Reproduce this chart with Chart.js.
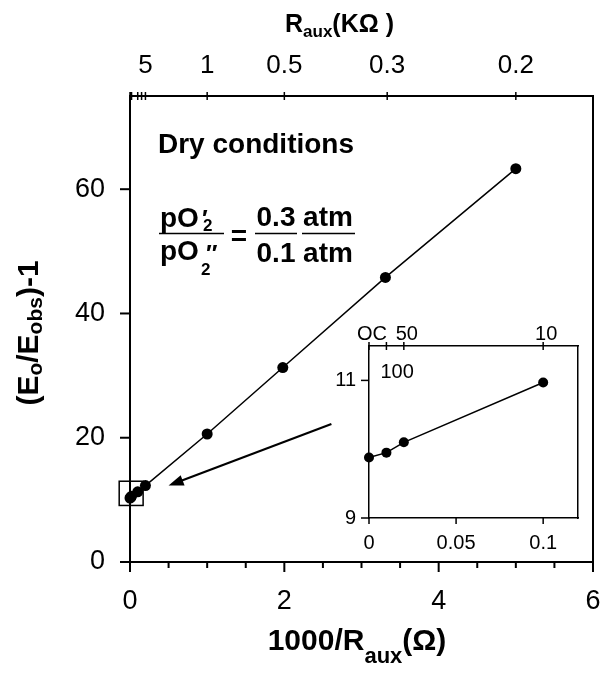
<!DOCTYPE html>
<html lang="en">
<head>
<meta charset="UTF-8" />
<title>Dry conditions</title>
<script src="https://cdn.jsdelivr.net/npm/chart.js@4.4.0/dist/chart.umd.min.js"></script>
<style>
  body { margin: 0; background: #fff; }
  #wrap { position: relative; width: 604px; height: 675px; }
  #inset { position: absolute; left: 330px; top: 320px; }
</style>
</head>
<body>
<div id="wrap">
  <canvas id="chart" width="604" height="675"></canvas>
  <canvas id="inset" width="270" height="240"></canvas>
</div>
<script>
const FONT = '"Liberation Sans", Arial, sans-serif';

// main plot: 1000/Raux against (Eo/Eobs)-1
const invR = [0, 0.01, 0.02, 0.1, 0.2, 1, 1.98, 3.31, 5];
const ratio = [10.3, 10.4, 10.6, 11.3, 12.3, 20.6, 31.3, 45.8, 63.3];

// top axis, Raux in kOhm
const topTickPos = [0, 0.01, 0.02, 0.1, 0.15, 0.2, 1, 2, 3.333, 5];
const topTickText = ['', '', '', '', '', '5', '1', '0.5', '0.3', '0.2'];

// inset, low current end
const insetX = [0, 0.01, 0.02, 0.1];
const insetY = [9.88, 9.95, 10.1, 10.97];
const insetTopPos = [0, 0.01, 0.02, 0.1];
const insetTopText = ['OC', '100', '50', '10'];

// draws a run of text pieces: [text, size, drop]
function rich(ctx, parts, x, y, align) {
  let w = 0;
  parts.forEach(p => {
    ctx.font = 'bold ' + p[1] + 'px ' + FONT;
    p.w = ctx.measureText(p[0]).width;
    w += p.w;
  });
  let cx = align === 'center' ? x - w / 2 : x;
  ctx.textAlign = 'left';
  ctx.textBaseline = 'alphabetic';
  parts.forEach(p => {
    ctx.font = 'bold ' + p[1] + 'px ' + FONT;
    ctx.fillText(p[0], cx, y + (p[2] || 0));
    cx += p.w;
  });
}

function line(ctx, x1, y1, x2, y2) {
  ctx.beginPath();
  ctx.moveTo(x1, y1);
  ctx.lineTo(x2, y2);
  ctx.stroke();
}

// keep the plot area fixed: no extra room for edge labels
function noPad(s) {
  s.paddingLeft = 0;
  s.paddingRight = 0;
  s.paddingTop = 0;
  s.paddingBottom = 0;
}

const mainDecor = {
  id: 'mainDecor',
  afterDraw(chart) {
    const ctx = chart.ctx;
    const a = chart.chartArea;
    const { x, y, x2 } = chart.scales;
    ctx.save();
    ctx.strokeStyle = '#000';
    ctx.fillStyle = '#000';
    ctx.lineWidth = 2;

    // bottom ticks, every 0.5
    for (let i = 0; i <= 12; i++) {
      const px = x.getPixelForValue(i / 2);
      line(ctx, px, a.bottom, px, a.bottom + (i % 4 === 0 ? 10 : 6));
    }
    [0, 20, 40, 60].forEach(v => {
      const py = y.getPixelForValue(v);
      line(ctx, a.left - 10, py, a.left, py);
    });
    ctx.lineWidth = 1.5;
    topTickPos.forEach(v => {
      const px = x2.getPixelForValue(v);
      line(ctx, px, a.top - 4, px, a.top + 4);
    });

    // small box round the points near zero, and arrow to the inset
    const bx0 = x.getPixelForValue(-0.14), bx1 = x.getPixelForValue(0.17);
    const by0 = y.getPixelForValue(13), by1 = y.getPixelForValue(9.1);
    ctx.lineWidth = 1.5;
    ctx.strokeRect(bx0, by0, bx1 - bx0, by1 - by0);

    const ax0 = x.getPixelForValue(2.61), ay0 = y.getPixelForValue(22.2);
    const ax1 = x.getPixelForValue(0.5), ay1 = y.getPixelForValue(12.3);
    const ang = Math.atan2(ay1 - ay0, ax1 - ax0);
    ctx.lineWidth = 2.2;
    line(ctx, ax0, ay0, ax1 - 10 * Math.cos(ang), ay1 - 10 * Math.sin(ang));
    ctx.beginPath();
    ctx.moveTo(ax1, ay1);
    ctx.lineTo(ax1 - 15 * Math.cos(ang) + 5.5 * Math.sin(ang), ay1 - 15 * Math.sin(ang) - 5.5 * Math.cos(ang));
    ctx.lineTo(ax1 - 15 * Math.cos(ang) - 5.5 * Math.sin(ang), ay1 - 15 * Math.sin(ang) + 5.5 * Math.cos(ang));
    ctx.closePath();
    ctx.fill();

    // axis titles
    rich(ctx, [['R', 25], ['aux', 17, 5], ['(K\u03A9 )', 25]], 285, 32, 'left');
    rich(ctx, [['1000/R', 30], ['aux', 22, 13], ['(\u03A9)', 30]], 357, 650, 'center');
    ctx.save();
    ctx.translate(38, 333);
    ctx.rotate(-Math.PI / 2);
    rich(ctx, [['(E', 30], ['o', 21, 4], ['/E', 30], ['obs', 21, 4], [')-1', 30]], 0, 0, 'center');
    ctx.restore();

    // annotation
    rich(ctx, [['Dry conditions', 28]], 158, 153, 'left');
    ctx.lineWidth = 1.5;
    line(ctx, 159, 233.5, 224, 233.5);
    line(ctx, 255, 233.5, 297, 233.5);
    line(ctx, 302, 233.5, 355, 233.5);
    rich(ctx, [['pO', 28]], 160, 227, 'left');
    rich(ctx, [['\u2032', 24]], 202, 227, 'left');
    rich(ctx, [['2', 17]], 203, 231, 'left');
    rich(ctx, [['pO', 28]], 160, 260, 'left');
    rich(ctx, [['2', 17]], 201, 275, 'left');
    rich(ctx, [['\u2033', 24]], 206, 262, 'left');
    rich(ctx, [['=', 28]], 239, 245, 'center');
    rich(ctx, [['0.3', 28]], 276, 226, 'center');
    rich(ctx, [['0.1', 28]], 276, 262, 'center');
    rich(ctx, [['atm', 28]], 328, 226, 'center');
    rich(ctx, [['atm', 28]], 328, 262, 'center');
    ctx.restore();
  }
};

new Chart(document.getElementById('chart'), {
  type: 'scatter',
  data: {
    datasets: [{
      data: invR.map((v, i) => ({ x: v, y: ratio[i] })),
      showLine: true,
      borderColor: '#000',
      borderWidth: 1.5,
      pointRadius: 5.5,
      pointBackgroundColor: '#000',
      pointBorderWidth: 0,
      clip: false
    }]
  },
  options: {
    responsive: false,
    animation: false,
    events: [],
    layout: { padding: 0 },
    plugins: { legend: { display: false }, tooltip: { enabled: false } },
    scales: {
      x: {
        type: 'linear', position: 'bottom', min: 0, max: 6,
        grid: { display: false },
        border: { color: '#000', width: 2 },
        afterBuildTicks: s => { s.ticks = [0, 2, 4, 6].map(v => ({ value: v })); },
        ticks: { font: { size: 27, family: FONT }, color: '#000', padding: 15, maxRotation: 0, autoSkip: false },
        afterFit: s => { s.height = 113; noPad(s); }
      },
      x2: {
        type: 'linear', position: 'top', min: 0, max: 6,
        grid: { display: false },
        border: { color: '#000', width: 2 },
        afterBuildTicks: s => { s.ticks = topTickPos.map(v => ({ value: v })); },
        ticks: {
          callback: (v, i) => topTickText[i],
          font: { size: 26, family: FONT }, color: '#000', padding: 7, maxRotation: 0, autoSkip: false
        },
        afterFit: s => { s.height = 96; noPad(s); }
      },
      y: {
        type: 'linear', position: 'left', min: 0, max: 75,
        grid: { display: false },
        border: { color: '#000', width: 2 },
        afterBuildTicks: s => { s.ticks = [0, 20, 40, 60].map(v => ({ value: v })); },
        ticks: { font: { size: 27, family: FONT }, color: '#000', padding: 17 },
        afterFit: s => { s.width = 130; noPad(s); }
      },
      y2: {
        type: 'linear', position: 'right', min: 0, max: 75,
        grid: { display: false },
        border: { color: '#000', width: 2 },
        ticks: { display: false },
        afterFit: s => { s.width = 11; noPad(s); }
      }
    }
  },
  plugins: [mainDecor]
});

const insetDecor = {
  id: 'insetDecor',
  afterDraw(chart) {
    const ctx = chart.ctx;
    const a = chart.chartArea;
    const { x, y, x2 } = chart.scales;
    ctx.save();
    ctx.strokeStyle = '#000';
    ctx.fillStyle = '#000';
    ctx.lineWidth = 1.5;
    [0, 0.05, 0.1].forEach(v => {
      const px = x.getPixelForValue(v);
      line(ctx, px, a.bottom, px, a.bottom + 6);
    });
    [9, 11].forEach(v => {
      const py = y.getPixelForValue(v);
      line(ctx, a.left - 8, py, a.left, py);
    });
    insetTopPos.forEach(v => {
      const px = x2.getPixelForValue(v);
      line(ctx, px, a.top - 4, px, a.top + 4);
    });
    ctx.font = '20px ' + FONT;
    ctx.textBaseline = 'alphabetic';
    ctx.textAlign = 'center';
    insetTopPos.forEach((v, i) => {
      const px = x2.getPixelForValue(v);
      if (insetTopText[i] === '100') {
        ctx.textAlign = 'left';
        ctx.fillText(insetTopText[i], px - 6, a.top + 32);
        ctx.textAlign = 'center';
      } else {
        ctx.fillText(insetTopText[i], px + 3, a.top - 6);
      }
    });
    ctx.restore();
  }
};

new Chart(document.getElementById('inset'), {
  type: 'scatter',
  data: {
    datasets: [{
      data: insetX.map((v, i) => ({ x: v, y: insetY[i] })),
      showLine: true,
      borderColor: '#000',
      borderWidth: 1.5,
      pointRadius: 5,
      pointBackgroundColor: '#000',
      pointBorderWidth: 0,
      clip: false
    }]
  },
  options: {
    responsive: false,
    animation: false,
    events: [],
    layout: { padding: 0 },
    plugins: { legend: { display: false }, tooltip: { enabled: false } },
    scales: {
      x: {
        type: 'linear', position: 'bottom', min: 0, max: 0.12,
        grid: { display: false },
        border: { color: '#000', width: 1.5 },
        afterBuildTicks: s => { s.ticks = [0, 0.05, 0.1].map(v => ({ value: v })); },
        ticks: {
          callback: v => String(v),
          font: { size: 20, family: FONT }, color: '#000', padding: 5, maxRotation: 0, autoSkip: false
        },
        afterFit: s => { s.height = 42; noPad(s); }
      },
      x2: {
        type: 'linear', position: 'top', min: 0, max: 0.12,
        grid: { display: false },
        border: { color: '#000', width: 1.5 },
        ticks: { display: false },
        afterFit: s => { s.height = 26; noPad(s); }
      },
      y: {
        type: 'linear', position: 'left', min: 9, max: 11.5,
        grid: { display: false },
        border: { color: '#000', width: 1.5 },
        afterBuildTicks: s => { s.ticks = [9, 11].map(v => ({ value: v })); },
        ticks: { font: { size: 20, family: FONT }, color: '#000', padding: 5 },
        afterFit: s => { s.width = 39; noPad(s); }
      },
      y2: {
        type: 'linear', position: 'right', min: 9, max: 11.5,
        grid: { display: false },
        border: { color: '#000', width: 1.5 },
        ticks: { display: false },
        afterFit: s => { s.width = 22; noPad(s); }
      }
    }
  },
  plugins: [insetDecor]
});
</script>
</body>
</html>
